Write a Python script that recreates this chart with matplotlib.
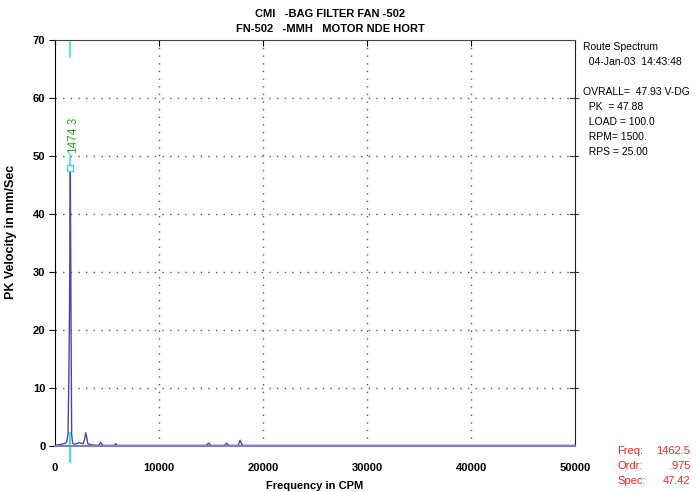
import matplotlib
matplotlib.use("Agg")
import matplotlib.pyplot as plt

# spectrum (CPM vs mm/Sec)
freq = [0, 300, 600, 900, 1100, 1250, 1330, 1400, 1474, 1540, 1600, 1700, 1900,
        2100, 2300, 2500, 2700, 2850, 2950, 3050, 3150, 3300, 3500, 4200, 4400,
        4600, 5700, 5850, 6000, 8000, 14500, 14800, 15000, 16300, 16500, 16700,
        17600, 17800, 17950, 18100, 50000]
amp = [0.1, 0.2, 0.3, 0.4, 0.6, 2.0, 11.5, 25.0, 47.88, 22.0, 2.0, 0.5, 0.3,
       0.4, 0.6, 0.5, 0.4, 1.2, 2.3, 1.5, 0.4, 0.3, 0.2, 0.1, 0.6,
       0.1, 0.1, 0.4, 0.1, 0.1, 0.1, 0.5, 0.1, 0.1, 0.5, 0.1,
       0.1, 1.0, 0.3, 0.1, 0.1]

peak_freq = 1474.3
peak_amp = 47.88
cursor_freq = 1462.5

xticks = [0, 10000, 20000, 30000, 40000, 50000]
yticks = [0, 10, 20, 30, 40, 50, 60, 70]

title1 = "CMI   -BAG FILTER FAN -502"
title2 = "FN-502   -MMH   MOTOR NDE HORT"
info = ["Route Spectrum", "  04-Jan-03  14:43:48", "",
        "OVRALL=  47.93 V-DG", "  PK  = 47.88", "  LOAD = 100.0",
        "  RPM= 1500.", "  RPS = 25.00"]
cursor_labels = ["Freq:", "Ordr:", "Spec:"]
cursor_values = ["1462.5", ".975", "47.42"]

narrow = ["Liberation Sans Narrow", "Liberation Sans", "DejaVu Sans"]
plain = ["Liberation Sans", "DejaVu Sans"]

fig = plt.figure(figsize=(6.96, 4.92), dpi=100)
ax = fig.add_axes([55/696, 1-446/492, 520/696, 406/492])

ax.plot(freq, amp, color="#4848a8", lw=1.0)

# cursor and peak marker
ax.plot([cursor_freq, cursor_freq], [70, 67], color="#40e0f0", lw=1.2)
ax.plot([cursor_freq, cursor_freq], [peak_amp, 50.3], color="#40e0f0", lw=1.2)
ax.plot([cursor_freq, cursor_freq], [2.2, -2.7], color="#40e0f0", lw=1.5,
        clip_on=False)
ax.plot([peak_freq], [peak_amp], marker="s", ms=5, mfc="white",
        mec="#40d0e0", mew=1.0)
ax.text(peak_freq + 280, 50.6, "%.1f" % peak_freq, rotation=90, color="#30a030",
        fontsize=8.5, ha="center", va="bottom", family=plain)

ax.set_xlim(0, 50000)
ax.set_ylim(0, 70)
ax.set_xticks(xticks)
ax.set_yticks(yticks)
ax.set_xticklabels([str(v) for v in xticks], fontsize=8, fontweight="bold", family=narrow)
ax.set_yticklabels([str(v) for v in yticks], fontsize=8, fontweight="bold", family=narrow)

for y in yticks[1:-1]:
    ax.axhline(y, color="#555555", lw=1.0, ls=(0, (1, 4.5)), zorder=0)
for x in xticks[1:-1]:
    ax.axvline(x, color="#555555", lw=1.0, ls=(0, (1, 4.5)), zorder=0)

ax.tick_params(axis="y", left=True, right=False, direction="out", length=4,
               width=0.8, pad=3)
ax.tick_params(axis="x", bottom=False, top=True, direction="in", length=4,
               width=0.8, pad=12)
# right-hand ticks cross the frame
for y in yticks[1:-1]:
    ax.plot([49500, 50300], [y, y], color="#333333", lw=0.8, clip_on=False)
ax.spines["left"].set_color("black")
ax.spines["right"].set_color("#222222")
ax.spines["top"].set_color("#444444")
ax.spines["bottom"].set_color("#8080c0")
ax.spines["bottom"].set_linewidth(1.5)

ax.set_xlabel("Frequency in CPM", fontsize=8, fontweight="bold", family=narrow,
              labelpad=6)
ax.set_ylabel("PK Velocity in mm/Sec", fontsize=9, fontweight="bold", family=plain)
ax.yaxis.set_label_coords(-0.073, 0.527)

fig.text(330/696, 1-14/492, title1, ha="center", va="center", fontsize=8,
         fontweight="bold", family=narrow)
fig.text(330/696, 1-29/492, title2, ha="center", va="center", fontsize=8,
         fontweight="bold", family=narrow)

for i, line in enumerate(info):
    fig.text(583/696, 1-(47 + 15*i)/492, line, ha="left", va="center",
             fontsize=7.5, family=plain)

for i in range(3):
    yy = 1-(451 + 15*i)/492
    fig.text(617/696, yy, cursor_labels[i], ha="left", va="center", fontsize=8,
             color="#ff2020", family=plain)
    fig.text(690/696, yy, cursor_values[i], ha="right", va="center", fontsize=8,
             color="#ff2020", family=plain)

fig.savefig("out.png", dpi=100)
